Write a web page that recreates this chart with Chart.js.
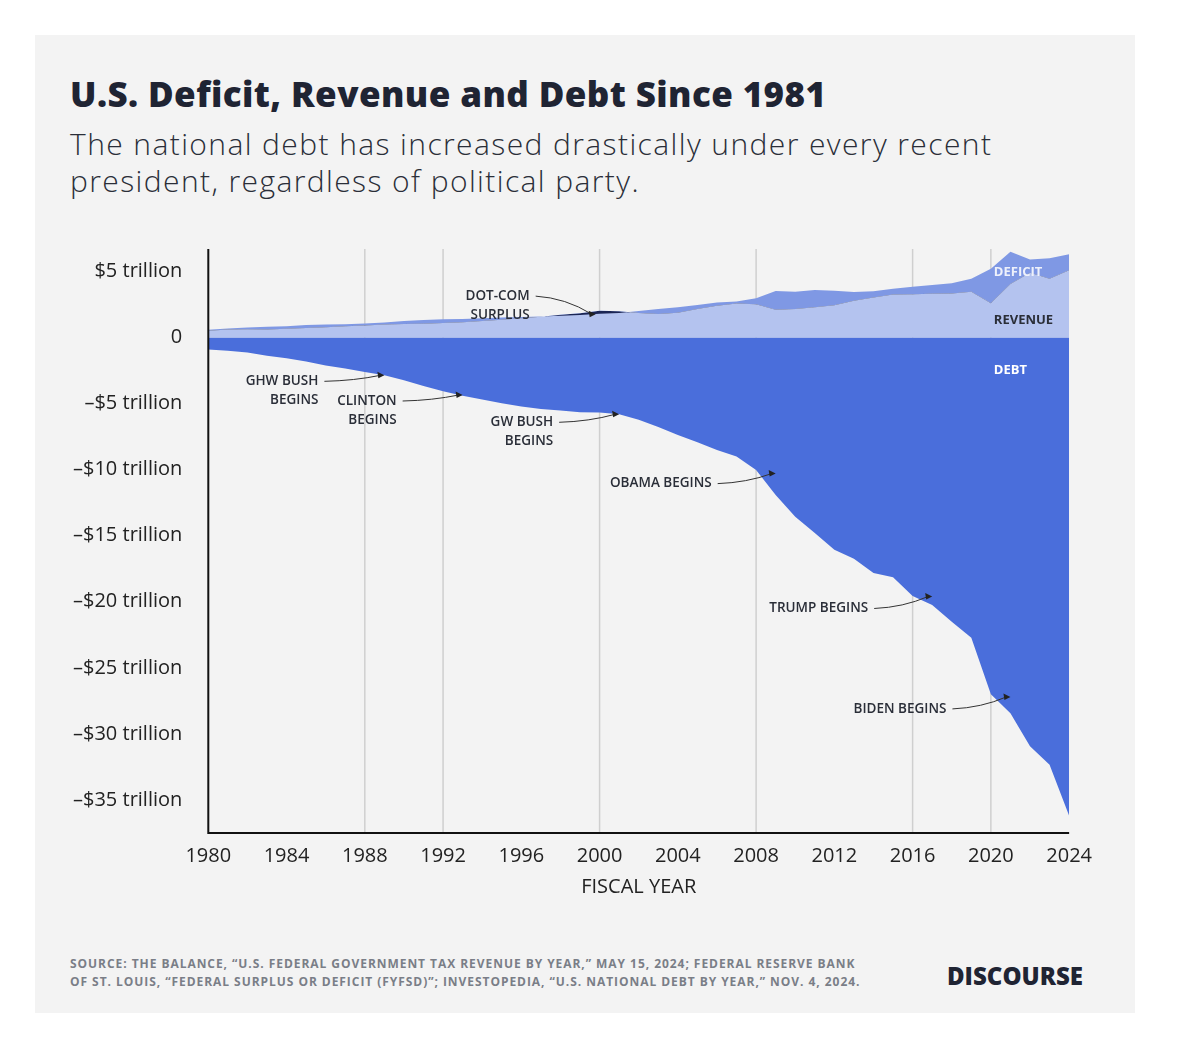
<!DOCTYPE html>
<html><head><meta charset="utf-8">
<script src="https://cdn.jsdelivr.net/npm/chart.js@4/dist/chart.umd.min.js"></script>
<style>
body{margin:0;background:#fff;font-family:"Open Sans",sans-serif;}
#card{position:absolute;left:35px;top:35px;width:1100px;height:978px;background:#f3f3f3;}
h1{position:absolute;left:35px;top:35px;margin:0;font-size:35px;font-weight:800;color:#1f2433;letter-spacing:0.4px;}
#sub{position:absolute;left:35px;top:90px;margin:0;font-size:30px;line-height:37px;color:#2a2e38;width:1040px;letter-spacing:1.4px;font-weight:300;}
#wrap{position:absolute;left:20px;top:184px;width:1040px;height:684px;}
#src{position:absolute;left:35px;top:920px;font-size:12px;font-weight:700;color:#7a7e87;line-height:18px;letter-spacing:0.95px;}
#logo{position:absolute;left:912px;top:924px;font-size:24px;font-weight:800;color:#1f2433;}
</style></head><body>
<div id="card">
<h1>U.S. Deficit, Revenue and Debt Since 1981</h1>
<p id="sub">The national debt has increased drastically under every recent president, regardless of political party.</p>
<div id="wrap"><canvas id="c"></canvas></div>
<div id="src">SOURCE: THE BALANCE, “U.S. FEDERAL GOVERNMENT TAX REVENUE BY YEAR,” MAY 15, 2024; FEDERAL RESERVE BANK<br>OF ST. LOUIS, “FEDERAL SURPLUS OR DEFICIT (FYFSD)”; INVESTOPEDIA, “U.S. NATIONAL DEBT BY YEAR,” NOV. 4, 2024.</div>
<div id="logo">DISCOURSE</div>
</div>
<script>
const years = [];
for (let y = 1980; y <= 2024; y++) years.push(y);
const revenue = [0.52,0.60,0.62,0.60,0.67,0.73,0.77,0.85,0.91,0.99,1.03,1.05,1.09,1.15,1.26,1.35,1.45,1.58,1.72,1.83,2.03,1.99,1.85,1.78,1.88,2.15,2.41,2.57,2.52,2.10,2.16,2.30,2.45,2.78,3.02,3.25,3.27,3.32,3.33,3.46,2.60,4.05,4.90,4.44,5.10];
const spending = [0.59,0.68,0.75,0.81,0.85,0.95,0.99,1.00,1.06,1.14,1.25,1.32,1.38,1.41,1.46,1.52,1.56,1.60,1.65,1.70,1.79,1.86,2.01,2.16,2.29,2.47,2.66,2.73,2.98,3.52,3.46,3.60,3.54,3.45,3.51,3.69,3.85,3.98,4.11,4.45,5.20,6.50,5.90,6.00,6.30];
const debt = [0.91,1.00,1.14,1.37,1.56,1.82,2.12,2.35,2.60,2.86,3.23,3.67,4.06,4.41,4.69,4.97,5.22,5.41,5.53,5.66,5.67,5.81,6.23,6.78,7.38,7.93,8.51,9.01,10.02,11.91,13.56,14.79,16.07,16.74,17.82,18.15,19.57,20.24,21.52,22.72,27.00,28.43,30.93,32.33,36.20];
const yTicks = [5,0,-5,-10,-15,-20,-25,-30,-35];
const gridYears = [1988,1992,2000,2008,2016,2020];
const notes = [
  {lines:["GHW BUSH","BEGINS"], year:1989, val:-2.86, dx:-60, dy:6},
  {lines:["CLINTON","BEGINS"], year:1993, val:-4.35, dx:-60, dy:6},
  {lines:["GW BUSH","BEGINS"], year:2001, val:-5.81, dx:-60, dy:8},
  {lines:["OBAMA BEGINS"], year:2009, val:-10.3, dx:-58, dy:10},
  {lines:["TRUMP BEGINS"], year:2017, val:-19.6, dx:-58, dy:12},
  {lines:["BIDEN BEGINS"], year:2021, val:-27.2, dx:-58, dy:12},
  {lines:["DOT-COM","SURPLUS"], year:1999.8, val:1.77, dx:-60, dy:-18}
];
const pts = arr => years.map((y, i) => ({x: y, y: arr[i]}));

const decor = {
  id: "decor",
  beforeDatasetsDraw(ch) {
    const {ctx, chartArea: a, scales: {x}} = ch;
    ctx.save(); ctx.strokeStyle = "#cfcfcf"; ctx.lineWidth = 1.5;
    gridYears.forEach(g => { const px = x.getPixelForValue(g); ctx.beginPath(); ctx.moveTo(px, a.top); ctx.lineTo(px, a.bottom); ctx.stroke(); });
    ctx.restore();
  },
  afterDatasetsDraw(ch) {
    const {ctx, chartArea: a, scales: {x, y}} = ch;
    ctx.save();
    ctx.strokeStyle = "#111"; ctx.lineWidth = 2;
    ctx.beginPath(); ctx.moveTo(a.left, a.top); ctx.lineTo(a.left, a.bottom); ctx.lineTo(a.right, a.bottom); ctx.stroke();
    ctx.font = "600 13.5px 'Open Sans'";
    notes.forEach(n => {
      const tx = x.getPixelForValue(n.year), ty = y.getPixelForValue(n.val);
      const sx = tx + n.dx, sy = ty + n.dy;
      ctx.strokeStyle = "#333"; ctx.lineWidth = 1;
      ctx.beginPath(); ctx.moveTo(sx, sy); ctx.quadraticCurveTo((sx + tx) / 2, sy + (ty - sy) * 0.1, tx - 4, ty);
      ctx.stroke();
      ctx.fillStyle = "#222";
      ctx.beginPath(); ctx.moveTo(tx, ty); ctx.lineTo(tx - 7, ty - 3.5); ctx.lineTo(tx - 6, ty + 3); ctx.fill();
      ctx.textAlign = "right"; ctx.textBaseline = "middle"; ctx.fillStyle = "#2a2e38";
      n.lines.forEach((l, i) => ctx.fillText(l, sx - 6, sy + i * 19));
    });
    ctx.font = "700 13px 'Open Sans'"; ctx.textAlign = "left"; ctx.textBaseline = "middle";
    const lx = x.getPixelForValue(2020) + 3;
    ctx.fillStyle = "#eef1fb"; ctx.fillText("DEFICIT", lx, y.getPixelForValue(4.9));
    ctx.fillStyle = "#2a2e38"; ctx.fillText("REVENUE", lx, y.getPixelForValue(1.3));
    ctx.fillStyle = "#ffffff"; ctx.fillText("DEBT", lx, y.getPixelForValue(-2.5));
    ctx.restore();
  }
};

new Chart(document.getElementById("c"), {
  type: "line",
  data: { datasets: [
    {label: "Revenue", data: pts(revenue), fill: "origin", backgroundColor: "#b4c3ef", borderWidth: 0, pointRadius: 0, order: 2},
    {label: "Spending", data: pts(spending), fill: {target: 0, above: "#7f98e4", below: "#1b2554"}, borderWidth: 0, pointRadius: 0, order: 1},
    {label: "Debt", data: pts(debt.map(v => -v)), fill: "origin", backgroundColor: "#4a6edb", borderWidth: 0, pointRadius: 0, order: 3}
  ]},
  options: {
    responsive: true, maintainAspectRatio: false, animation: false,
    layout: {padding: {top: 10, right: 24}},
    plugins: {legend: {display: false}, tooltip: {enabled: false}},
    scales: {
      x: {type: "linear", min: 1980, max: 2024, grid: {display: false}, border: {display: false},
          ticks: {stepSize: 4, color: "#222", font: {size: 20, family: "Open Sans"}, callback: v => String(v)},
          title: {display: true, text: "FISCAL YEAR", color: "#222", font: {size: 20, family: "Open Sans"}}},
      y: {min: -37.5, max: 6.7, grid: {display: false}, border: {display: false},
          afterBuildTicks: s => { s.ticks = yTicks.map(v => ({value: v})); },
          ticks: {color: "#222", padding: 18, font: {size: 20, family: "Open Sans"},
                  callback: v => v === 0 ? "0" : (v < 0 ? "–$" + (-v) : "$" + v) + " trillion"}}
    }
  },
  plugins: [decor]
});
</script>
</body></html>
